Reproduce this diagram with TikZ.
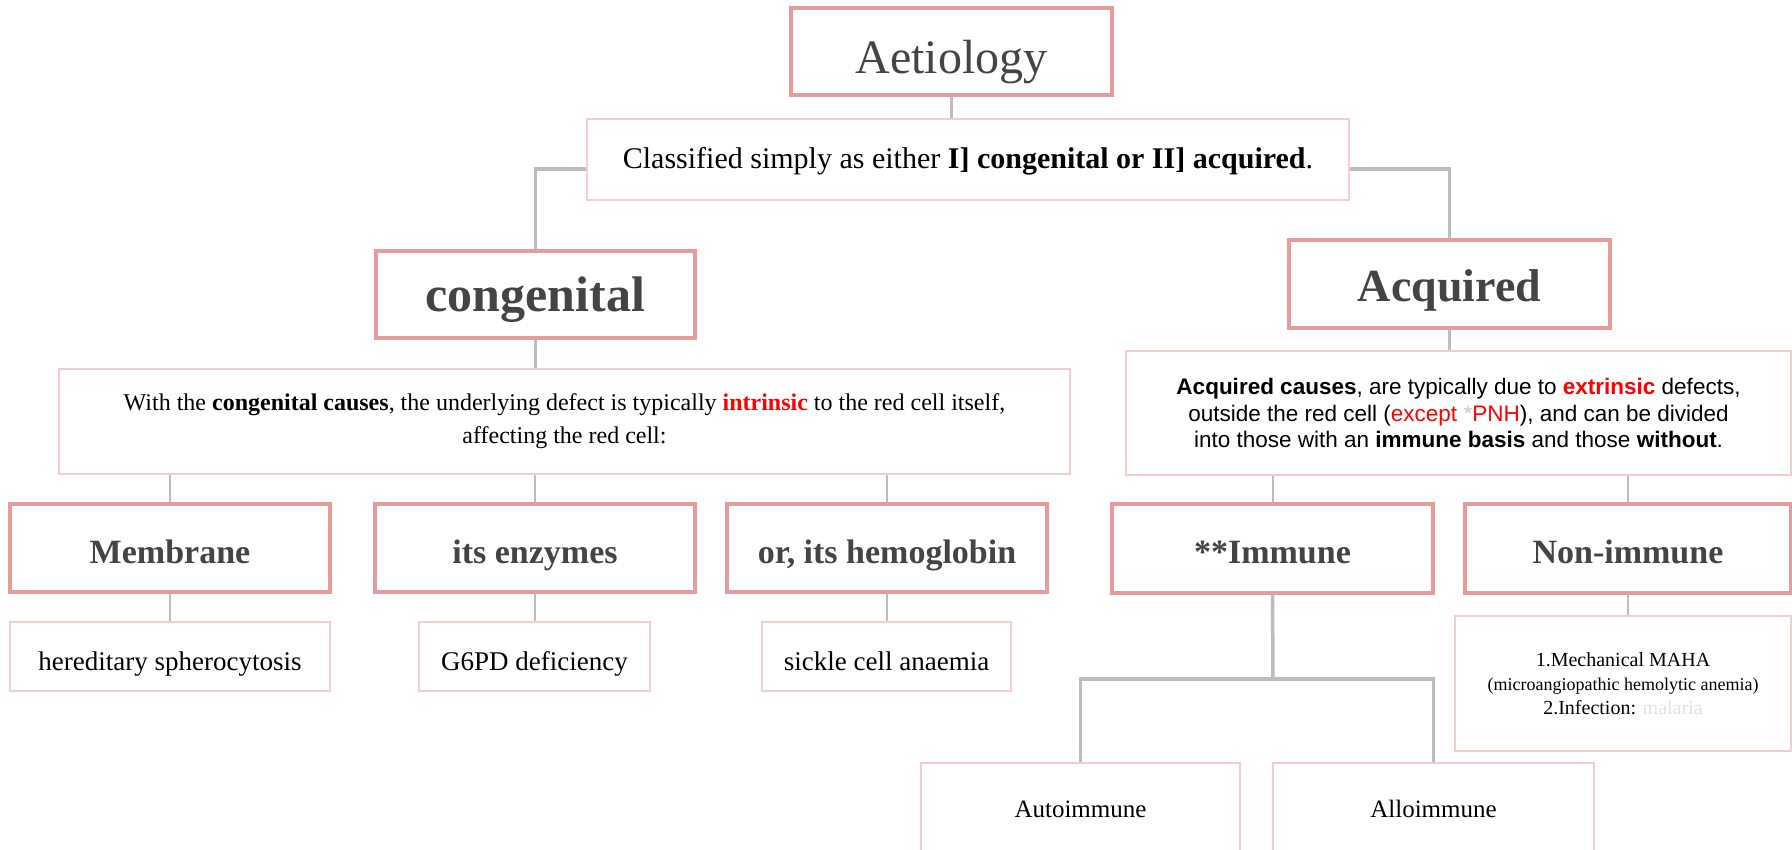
\documentclass[tikz,border=0pt]{standalone}
\usepackage{fontspec}
\setmainfont{Liberation Serif}
\newfontfamily\sansf{Liberation Sans}
\definecolor{thickpink}{HTML}{E89B9B}
\definecolor{lightpink}{HTML}{F6CDCD}
\definecolor{conngray}{HTML}{BDBDBD}
\definecolor{hdgray}{HTML}{444444}
\definecolor{lgray}{HTML}{C8C8C8}
\definecolor{vlgray}{HTML}{E2E2E2}
\newcommand\fsz[2]{\fontsize{#1}{#2}\selectfont}
\tikzset{
  hbox/.style={draw=thickpink, line width=3.5pt, fill=white, text=hdgray, inner sep=0pt, align=center, font=\fsz{34}{40}\bfseries, text height=30pt, text depth=0pt},
  lbox/.style={draw=lightpink, line width=2pt, fill=white, text=black, inner sep=0pt, align=center},
  leaf/.style={lbox, font=\fsz{27}{30}, text height=27pt, text depth=0pt},
  conn/.style={draw=conngray, line width=3.5pt},
  thinconn/.style={draw=conngray, line width=2pt},
}
\begin{document}
\begin{tikzpicture}[x=1pt,y=-1pt]
\clip (0,0) rectangle (1792,850);
\fill[white] (0,0) rectangle (1792,850);

% nodes
\node[hbox, minimum width=321, minimum height=87, font=\fsz{48}{56}, text height=45pt] (aet) at (951.5,51.5) {Aetiology};
\node[lbox, minimum width=762, minimum height=81, font=\fsz{30}{34}, text height=19pt, text depth=0pt] (cls) at (968,159.5) {Classified simply as either \textbf{I] congenital or II] acquired}.};
\node[hbox, minimum width=319, minimum height=87, font=\fsz{50}{58}\bfseries, text height=35pt] (cong) at (535.5,294.5) {congenital};
\node[hbox, minimum width=321, minimum height=88, font=\fsz{46}{54}\bfseries, text height=36pt] (acq) at (1449.5,284) {Acquired};

\node[lbox, minimum width=1011, minimum height=105, font=\fsz{24}{33}] (cc) at (564.5,421.5)
  {With the \textbf{congenital causes}, the underlying defect is typically \textbf{\color{red}intrinsic} to the red cell itself,\\affecting the red cell:};

\node[hbox, minimum width=320, minimum height=88] (mem) at (170,548) {Membrane};
\node[hbox, minimum width=320, minimum height=88] (enz) at (535,548) {its enzymes};
\node[hbox, minimum width=320, minimum height=88] (hem) at (887,548) {or, its hemoglobin};

\node[leaf, minimum width=320, minimum height=69] (hs) at (170,656.5) {hereditary spherocytosis};
\node[leaf, minimum width=231, minimum height=69] (g6) at (534.5,656.5) {G6PD deficiency};
\node[leaf, minimum width=249, minimum height=69] (sc) at (886.5,656.5) {sickle cell anaemia};

\node[lbox, minimum width=665, minimum height=124, font=\sansf\fsz{22.5}{26.5}] (ac) at (1458.5,413)
  {\textbf{Acquired causes}, are typically due to \textbf{\color{red}extrinsic} defects,\\
   outside the red cell ({\color{red}except {\color{lgray}*}PNH}), and can be divided\\
   into those with an \textbf{immune basis} and those \textbf{without}.};

\node[hbox, minimum width=321, minimum height=89] (imm) at (1272.5,548.5) {**Immune};
\node[hbox, minimum width=326, minimum height=89] (non) at (1628,548.5) {Non-immune};

\node[lbox, minimum width=336, minimum height=135, font=\fsz{20}{24}] (nid) at (1623,683.5)
  {1.Mechanical MAHA\\{\fsz{18}{22}(microangiopathic hemolytic anemia)}\\2.Infection: {\color{vlgray}malaria}};

\node[lbox, minimum width=319, minimum height=90, font=\fsz{25}{30}, text height=18pt, text depth=0pt] (auto) at (1080.5,808) {Autoimmune};
\node[lbox, minimum width=321, minimum height=90, font=\fsz{25}{30}, text height=18pt, text depth=0pt] (allo) at (1433.5,808) {Alloimmune};

\coordinate (jn) at (1273,679);

% connectors
\draw[conn] (aet.south) -- (cls.north -| aet.south);
\draw[conn] ([yshift=-9.5pt]cls.west) -| (cong.north);
\draw[conn] ([yshift=-9.5pt]cls.east) -| (acq.north);
\draw[conn] (cong.south) -- (cong.south |- cc.north);
\draw[thinconn] (mem.north |- cc.south) -- (mem.north);
\draw[thinconn] (enz.north |- cc.south) -- (enz.north);
\draw[thinconn] (hem.north |- cc.south) -- (hem.north);
\draw[thinconn] (mem.south) -- (mem.south |- hs.north);
\draw[thinconn] (enz.south) -- (enz.south |- g6.north);
\draw[thinconn] (hem.south) -- (hem.south |- sc.north);
\draw[conn] (acq.south) -- (acq.south |- ac.north);
\draw[thinconn] (imm.north |- ac.south) -- (imm.north);
\draw[thinconn] (non.north |- ac.south) -- (non.north);
\draw[thinconn] (non.south) -- (non.south |- nid.north);
\draw[conn] (imm.south) -- (jn);
\draw[conn] (auto.north) |- (jn) -| (allo.north);
\end{tikzpicture}
\end{document}
